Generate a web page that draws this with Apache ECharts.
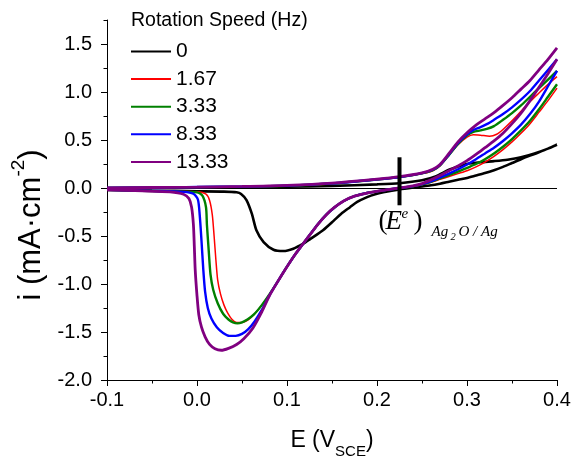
<!DOCTYPE html>
<html>
<head>
<meta charset="utf-8">
<script src="https://cdn.jsdelivr.net/npm/echarts@6/dist/echarts.min.js"></script>
<style>
  html, body { margin: 0; padding: 0; background: #fff; }
  #chart { width: 573px; height: 456px; }
</style>
</head>
<body>
<div id="chart"></div>
<script>
// Cyclic voltammograms of Ag at several rotation speeds: [E (V vs SCE), i (mA/cm2)]
const speedNames = ['0', '1.67', '3.33', '8.33', '13.33'];
const speedColors = ['#000000', '#ff0000', '#008000', '#0000ff', '#800080'];
const speedWidths = [2.6, 1.5, 2.4, 2.4, 2.8];

const scan0Anodic = [[-0.1, 0.0], [-0.05, 0.0], [0.0, 0.004], [0.05, 0.008], [0.1, 0.013], [0.15, 0.022], [0.2, 0.038], [0.225, 0.05], [0.25, 0.08], [0.265, 0.12], [0.28, 0.19], [0.29, 0.225], [0.3, 0.25], [0.315, 0.268], [0.33, 0.28], [0.345, 0.295], [0.36, 0.32], [0.375, 0.36], [0.39, 0.41], [0.4, 0.45]];
const scan0Cathodic = [[0.4, 0.45], [0.39, 0.41], [0.375, 0.355], [0.36, 0.30], [0.35, 0.26], [0.34, 0.22], [0.33, 0.185], [0.32, 0.155], [0.31, 0.13], [0.3, 0.105], [0.29, 0.085], [0.28, 0.065], [0.27, 0.045], [0.26, 0.028], [0.245, 0.01], [0.225, -0.015], [0.207, -0.045], [0.198, -0.065], [0.189, -0.095], [0.178, -0.145], [0.17, -0.2], [0.16, -0.27], [0.152, -0.34], [0.14, -0.44], [0.126, -0.53], [0.118, -0.58], [0.107, -0.632], [0.096, -0.657], [0.085, -0.643], [0.074, -0.563], [0.066, -0.44], [0.061, -0.27], [0.055, -0.126], [0.049, -0.062], [0.044, -0.045], [0.03, -0.038], [0.0, -0.035], [-0.05, -0.03], [-0.1, -0.02]];

const scan167Anodic = [[-0.1, 0.0], [-0.05, 0.003], [0.0, 0.008], [0.05, 0.013], [0.1, 0.022], [0.15, 0.045], [0.2, 0.085], [0.225, 0.11], [0.25, 0.15], [0.262, 0.18], [0.27, 0.23], [0.28, 0.34], [0.29, 0.45], [0.3, 0.53], [0.307, 0.555], [0.315, 0.55], [0.325, 0.54], [0.333, 0.56], [0.34, 0.61], [0.35, 0.70], [0.36, 0.80], [0.37, 0.90], [0.38, 0.99], [0.39, 1.08], [0.4, 1.16]];
const scan167Cathodic = [[0.4, 1.04], [0.39, 0.91], [0.38, 0.79], [0.37, 0.67], [0.36, 0.57], [0.35, 0.48], [0.34, 0.40], [0.33, 0.33], [0.32, 0.27], [0.31, 0.22], [0.3, 0.18], [0.29, 0.15], [0.28, 0.12], [0.27, 0.09], [0.26, 0.06], [0.25, 0.035], [0.24, 0.017], [0.225, 0.0], [0.21, -0.02], [0.19, -0.05], [0.175, -0.085], [0.163, -0.135], [0.153, -0.2], [0.144, -0.275], [0.135, -0.37], [0.122, -0.53], [0.11, -0.68], [0.1, -0.82], [0.09, -0.97], [0.081, -1.10], [0.072, -1.22], [0.063, -1.32], [0.056, -1.38], [0.05, -1.40], [0.044, -1.40], [0.039, -1.37], [0.034, -1.30], [0.03, -1.22], [0.026, -1.10], [0.023, -0.96], [0.021, -0.75], [0.019, -0.5], [0.017, -0.28], [0.014, -0.13], [0.01, -0.065], [0.0, -0.04], [-0.05, -0.03], [-0.1, -0.02]];

const scan333Anodic = [[-0.1, 0.0], [-0.05, 0.004], [0.0, 0.009], [0.05, 0.014], [0.1, 0.024], [0.15, 0.047], [0.2, 0.088], [0.225, 0.113], [0.25, 0.152], [0.262, 0.185], [0.27, 0.235], [0.28, 0.345], [0.29, 0.46], [0.3, 0.55], [0.307, 0.585], [0.315, 0.60], [0.322, 0.615], [0.33, 0.645], [0.34, 0.71], [0.35, 0.78], [0.36, 0.86], [0.37, 0.95], [0.38, 1.04], [0.39, 1.13], [0.4, 1.22]];
const scan333Cathodic = [[0.4, 1.08], [0.39, 0.95], [0.38, 0.82], [0.37, 0.70], [0.36, 0.60], [0.35, 0.51], [0.34, 0.43], [0.33, 0.36], [0.32, 0.30], [0.31, 0.25], [0.3, 0.21], [0.29, 0.17], [0.28, 0.135], [0.27, 0.10], [0.26, 0.065], [0.25, 0.037], [0.24, 0.018], [0.225, 0.0], [0.21, -0.02], [0.19, -0.05], [0.175, -0.085], [0.163, -0.135], [0.153, -0.2], [0.144, -0.275], [0.135, -0.37], [0.122, -0.53], [0.11, -0.68], [0.1, -0.82], [0.09, -0.97], [0.081, -1.10], [0.072, -1.22], [0.063, -1.32], [0.056, -1.37], [0.05, -1.40], [0.045, -1.41], [0.04, -1.40], [0.035, -1.37], [0.029, -1.31], [0.023, -1.20], [0.018, -1.06], [0.015, -0.90], [0.013, -0.65], [0.011, -0.38], [0.01, -0.2], [0.006, -0.08], [0.0, -0.045], [-0.05, -0.03], [-0.1, -0.02]];

const scan833Anodic = [[-0.1, 0.0], [-0.05, 0.004], [0.0, 0.01], [0.05, 0.015], [0.1, 0.025], [0.15, 0.048], [0.2, 0.09], [0.225, 0.115], [0.25, 0.155], [0.262, 0.19], [0.27, 0.24], [0.28, 0.35], [0.29, 0.47], [0.3, 0.56], [0.307, 0.605], [0.315, 0.635], [0.322, 0.665], [0.33, 0.71], [0.34, 0.77], [0.35, 0.84], [0.36, 0.92], [0.37, 1.01], [0.38, 1.12], [0.39, 1.23], [0.4, 1.34]];
const scan833Cathodic = [[0.4, 1.22], [0.39, 1.06], [0.38, 0.90], [0.37, 0.77], [0.36, 0.66], [0.35, 0.57], [0.34, 0.49], [0.33, 0.42], [0.32, 0.36], [0.31, 0.30], [0.3, 0.245], [0.29, 0.195], [0.28, 0.15], [0.27, 0.11], [0.26, 0.07], [0.25, 0.04], [0.24, 0.02], [0.225, 0.0], [0.21, -0.02], [0.19, -0.05], [0.175, -0.085], [0.163, -0.135], [0.153, -0.2], [0.144, -0.275], [0.135, -0.37], [0.122, -0.53], [0.11, -0.68], [0.1, -0.82], [0.09, -0.97], [0.081, -1.11], [0.072, -1.27], [0.064, -1.39], [0.057, -1.47], [0.05, -1.52], [0.043, -1.54], [0.036, -1.54], [0.029, -1.51], [0.022, -1.45], [0.016, -1.36], [0.012, -1.25], [0.009, -1.08], [0.007, -0.85], [0.005, -0.55], [0.003, -0.28], [0.001, -0.12], [-0.004, -0.06], [-0.015, -0.04], [-0.05, -0.03], [-0.1, -0.02]];

const scan1333Anodic = [[-0.1, 0.0], [-0.05, 0.005], [0.0, 0.01], [0.05, 0.016], [0.1, 0.027], [0.15, 0.05], [0.2, 0.092], [0.225, 0.118], [0.25, 0.158], [0.262, 0.195], [0.27, 0.245], [0.28, 0.36], [0.29, 0.48], [0.3, 0.575], [0.31, 0.655], [0.32, 0.72], [0.33, 0.785], [0.34, 0.86], [0.35, 0.94], [0.36, 1.03], [0.37, 1.12], [0.38, 1.23], [0.39, 1.34], [0.4, 1.46]];
const scan1333Cathodic = [[0.4, 1.34], [0.39, 1.19], [0.38, 1.05], [0.37, 0.91], [0.36, 0.78], [0.35, 0.67], [0.34, 0.57], [0.33, 0.49], [0.32, 0.42], [0.31, 0.35], [0.3, 0.285], [0.29, 0.23], [0.28, 0.18], [0.27, 0.13], [0.26, 0.085], [0.25, 0.045], [0.24, 0.022], [0.225, 0.0], [0.21, -0.02], [0.19, -0.05], [0.175, -0.085], [0.163, -0.135], [0.153, -0.2], [0.144, -0.275], [0.135, -0.37], [0.122, -0.53], [0.11, -0.68], [0.1, -0.82], [0.09, -0.97], [0.08, -1.13], [0.072, -1.29], [0.062, -1.46], [0.052, -1.57], [0.044, -1.63], [0.035, -1.67], [0.027, -1.69], [0.02, -1.675], [0.014, -1.63], [0.009, -1.55], [0.005, -1.45], [0.002, -1.32], [0.0, -1.12], [-0.002, -0.85], [-0.003, -0.6], [-0.004, -0.38], [-0.006, -0.2], [-0.009, -0.11], [-0.015, -0.065], [-0.03, -0.04], [-0.06, -0.03], [-0.1, -0.02]];

// Equilibrium potential of Ag2O/Ag, marked with a vertical bar
const equilibriumPotential = 0.225;
const markerSpan = [0.32, -0.18];

// Axis ticks
const xTickValues = [-0.1, 0.0, 0.1, 0.2, 0.3, 0.4];
const xMinorTicks = [-0.05, 0.05, 0.15, 0.25, 0.35];
const yTickValues = [-2.0, -1.5, -1.0, -0.5, 0.0, 0.5, 1.0, 1.5];
const yMinorTicks = [-1.75, -1.25, -0.75, -0.25, 0.25, 0.75, 1.25, 1.75];

const scans = [
  [scan0Anodic, scan0Cathodic],
  [scan167Anodic, scan167Cathodic],
  [scan333Anodic, scan333Cathodic],
  [scan833Anodic, scan833Cathodic],
  [scan1333Anodic, scan1333Cathodic]
];

const FONT = '"Liberation Sans", Arial, sans-serif';
const SERIF = '"Liberation Serif", "Times New Roman", serif';

const chart = echarts.init(document.getElementById('chart'), null, { renderer: 'canvas' });

// the sweep reverses beyond the plotted window, so the two branches are not joined
const curveSeries = scans.map((pair, k) => ({
  name: speedNames[k],
  type: 'line',
  data: pair[0].concat([['-', '-']], pair[1]),
  symbol: 'none',
  showSymbol: false,
  smooth: 0.25,
  connectNulls: false,
  lineStyle: { color: speedColors[k], width: speedWidths[k] },
  itemStyle: { color: speedColors[k] },
  z: 3 + k,
  animation: false
}));

// horizontal zero-current line
curveSeries[0].markLine = {
  silent: true,
  symbol: ['none', 'none'],
  label: { show: false },
  lineStyle: { color: '#000', width: 1, type: 'solid' },
  data: [{ yAxis: 0 }],
  animation: false
};

const baseXAxis = { type: 'value', min: -0.1, max: 0.4, splitLine: { show: false } };
const baseYAxis = { type: 'value', min: -2, max: 1.75, splitLine: { show: false } };

chart.setOption({
  backgroundColor: '#fff',
  animation: false,
  grid: { left: 107, right: 16, top: 20, bottom: 76, containLabel: false, outerBoundsMode: 'none' },
  title: {
    text: 'Rotation Speed (Hz)',
    left: 131, top: 11, padding: 0,
    textStyle: { fontFamily: FONT, fontSize: 19.5, fontWeight: 'normal', color: '#000' }
  },
  legend: {
    data: speedNames,
    orient: 'vertical',
    left: 130, top: 41,
    itemWidth: 40, itemHeight: 20, itemGap: 6.6,
    padding: 0,
    itemStyle: { opacity: 0 },
    textStyle: { fontFamily: FONT, fontSize: 21, lineHeight: 20, color: '#000' }
  },
  xAxis: [
    Object.assign({}, baseXAxis, {
      position: 'bottom',
      name: '{a|E (V}{s|SCE}{a|)}',
      nameLocation: 'middle',
      nameGap: 49,
      nameTextStyle: {
        rich: {
          a: { fontFamily: FONT, fontSize: 23, lineHeight: 24, verticalAlign: 'top', color: '#000' },
          s: { fontFamily: FONT, fontSize: 15, lineHeight: 46, color: '#000' }
        }
      },
      axisLine: { show: true, onZero: false, lineStyle: { color: '#000', width: 1 } },
      axisTick: { show: true, inside: false, length: 6, lineStyle: { color: '#000' }, customValues: xTickValues },
      axisLabel: {
        show: true, margin: 10, customValues: xTickValues,
        fontFamily: FONT, fontSize: 20, color: '#000',
        formatter: v => v.toFixed(1)
      }
    }),
    Object.assign({}, baseXAxis, {
      position: 'bottom',
      axisLine: { show: false, onZero: false },
      axisTick: { show: true, inside: false, length: 3.5, lineStyle: { color: '#000' }, customValues: xMinorTicks },
      axisLabel: { show: false }
    })
  ],
  yAxis: [
    Object.assign({}, baseYAxis, {
      position: 'left',
      name: '{a|i (mA·cm}{s|-2}{a|)}',
      nameLocation: 'middle',
      nameRotate: 90,
      nameGap: 60,
      nameTextStyle: {
        padding: [0, 50, 0, 0],
        rich: {
          a: { fontFamily: FONT, fontSize: 31, lineHeight: 36, verticalAlign: 'bottom', color: '#000' },
          s: { fontFamily: FONT, fontSize: 19, lineHeight: 56, color: '#000' }
        }
      },
      axisLine: { show: true, onZero: false, lineStyle: { color: '#000', width: 1 } },
      axisTick: { show: true, inside: false, length: 6, lineStyle: { color: '#000' }, customValues: yTickValues },
      axisLabel: {
        show: true, margin: 15, customValues: yTickValues,
        fontFamily: FONT, fontSize: 20, color: '#000',
        formatter: v => v.toFixed(1)
      }
    }),
    Object.assign({}, baseYAxis, {
      position: 'left',
      axisLine: { show: false, onZero: false },
      axisTick: { show: true, inside: false, length: 3.5, lineStyle: { color: '#000' }, customValues: yMinorTicks },
      axisLabel: { show: false }
    })
  ],
  series: curveSeries.concat([{
    name: 'equilibrium',
    type: 'line',
    data: markerSpan.map(v => [equilibriumPotential, v]),
    symbol: 'none',
    lineStyle: { color: '#000', width: 4 },
    z: 10,
    animation: false
  }])
});

// label under the marker: (E^e) with subscript Ag2O/Ag, laid out piece by piece
const anchor = chart.convertToPixel({ gridIndex: 0 }, [equilibriumPotential, markerSpan[1]]);
const labelPieces = [
  { text: '(', dx: -21, dy: 16.5, size: 27, italic: false },
  { text: 'E', dx: -14, dy: 16.5, size: 27, italic: true },
  { text: 'e', dx: 2, dy: 8.5, size: 15, italic: true },
  { text: ')', dx: 14, dy: 16.5, size: 27, italic: false },
  { text: 'Ag', dx: 32, dy: 26.4, size: 15, italic: true },
  { text: '2', dx: 51, dy: 31.5, size: 10.5, italic: true },
  { text: 'O / Ag', dx: 59, dy: 26.4, size: 15, italic: true }
];
chart.setOption({
  graphic: labelPieces.map(p => ({
    type: 'text',
    x: anchor[0] + p.dx,
    y: anchor[1] + p.dy,
    silent: true,
    style: {
      text: p.text,
      fontFamily: SERIF,
      fontSize: p.size,
      fontStyle: p.italic ? 'italic' : 'normal',
      fill: '#000',
      align: 'left',
      verticalAlign: 'middle'
    }
  }))
});
</script>
</body>
</html>
